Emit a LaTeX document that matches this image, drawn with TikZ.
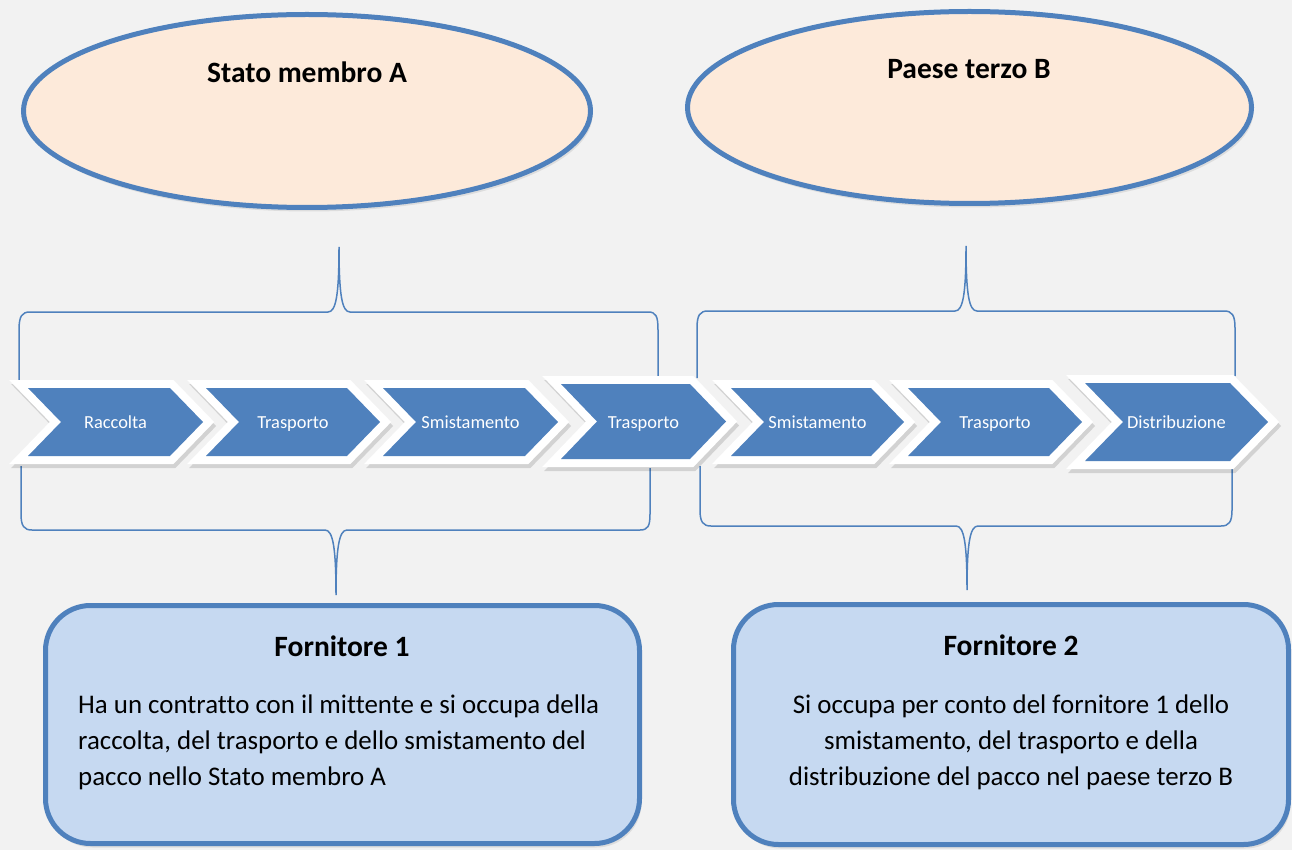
\documentclass[tikz,border=0pt]{standalone}
\usepackage{fontspec}
\setmainfont{Carlito}[Ligatures=NoCommon]
\usetikzlibrary{shapes.geometric,shadows}
\definecolor{bgcol}{HTML}{F2F2F2}
\definecolor{acc}{HTML}{4F81BD}
\definecolor{peach}{HTML}{FDEADA}
\definecolor{lblue}{HTML}{C6D9F1}
\newcommand\mychev[5]{%
  \draw[black, opacity=0.13, line width=16pt, line join=miter, shift={(2,4)}]
    (#1,#3) -- (#2-#5,#3) -- (#2,{(#3+#4)/2}) -- (#2-#5,#4) -- (#1,#4) -- (#1+#5,{(#3+#4)/2}) -- cycle;
  \draw[white, fill=white, line width=16pt, line join=miter]
    (#1,#3) -- (#2-#5,#3) -- (#2,{(#3+#4)/2}) -- (#2-#5,#4) -- (#1,#4) -- (#1+#5,{(#3+#4)/2}) -- cycle;
  \fill[acc]
    (#1,#3) -- (#2-#5,#3) -- (#2,{(#3+#4)/2}) -- (#2-#5,#4) -- (#1,#4) -- (#1+#5,{(#3+#4)/2}) -- cycle;
}
\begin{document}
\begin{tikzpicture}[x=1pt,y=-1pt,
  region/.style={ellipse, draw=acc, line width=5pt, fill=peach, inner sep=0pt,
    drop shadow={shadow xshift=2pt, shadow yshift=-4pt, opacity=0.18}},
  provbox/.style={rectangle, rounded corners=45pt, draw=acc, line width=5pt, fill=lblue, inner sep=0pt,
    drop shadow={shadow xshift=2pt, shadow yshift=-4pt, opacity=0.18}},
  title/.style={font=\fontsize{29.5}{34}\selectfont\bfseries, text=black, inner sep=0pt, anchor=base},
  body/.style={font=\fontsize{26.9}{36}\selectfont, text=black, inner sep=0pt},
  steptext/.style={font=\fontsize{18.4}{20}\selectfont, text=white, inner sep=0pt, anchor=base},
  brace/.style={draw=acc, line width=1.5pt}
]
\fill[bgcol] (0,0) rectangle (1292,850);

% ellipses
\node[region, minimum width=567pt, minimum height=193pt] (ellA) at (307,111) {};
\node[title] (tA) at (307,83) {Stato membro A};
\node[region, minimum width=564pt, minimum height=192pt] (ellB) at (969.5,107.5) {};
\node[title] (tB) at (969,79) {Paese terzo B};

% braces
\draw[brace] (19,380) -- (19,330) .. controls (19,316) and (22,312) .. (30,312) -- (328,312)
  .. controls (336,312) and (339,295) .. (339,247) .. controls (339,295) and (342,312) .. (350,312)
  -- (648,312) .. controls (656,312) and (658,316) .. (658,330) -- (658,378);
\draw[brace] (21,466) -- (21,514) .. controls (21,526) and (24,530) .. (32,530) -- (325,530)
  .. controls (333,530) and (336,548) .. (336,595) .. controls (336,548) and (339,530) .. (347,530)
  -- (640,530) .. controls (648,530) and (650,526) .. (650,514) -- (650,468);
\draw[brace] (697,378) -- (697,328) .. controls (697,315) and (700,311) .. (708,311) -- (955,311)
  .. controls (963,311) and (966,294) .. (966,246) .. controls (966,294) and (969,311) .. (977,311)
  -- (1224,311) .. controls (1232,311) and (1235,315) .. (1235,328) -- (1235,376);
\draw[brace] (700,466) -- (700,510) .. controls (700,522) and (703,526) .. (711,526) -- (956,526)
  .. controls (964,526) and (967,543) .. (967,590) .. controls (967,543) and (970,526) .. (978,526)
  -- (1221,526) .. controls (1229,526) and (1232,522) .. (1232,510) -- (1232,468);

% chevrons
\mychev{28}{203}{388}{456}{33}
\node[steptext] (c1) at (115.5,428) {Raccolta};
\mychev{206}{380}{388}{456}{33}
\node[steptext] (c2) at (293,428) {Trasporto};
\mychev{383}{558}{388}{456}{33}
\node[steptext] (c3) at (470.5,428) {Smistamento};
\mychev{561}{726}{384}{459}{36}
\node[steptext] (c4) at (643.5,428) {Trasporto};
\mychev{731}{904}{388}{456}{33}
\node[steptext] (c5) at (817.5,428) {Smistamento};
\mychev{908}{1082}{388}{456}{33}
\node[steptext] (c6) at (995,428) {Trasporto};
\mychev{1085}{1268}{383}{461}{38}
\node[steptext] (c7) at (1176.5,428) {Distribuzione};

% provider boxes
\node[provbox, minimum width=594pt, minimum height=238pt] (boxA) at (342.5,724.5) {};
\node[title] (fA) at (342,656) {Fornitore 1};
\node[body, align=left, anchor=north west] (dA) at (78,695)
  {Ha un contratto con il mittente e si occupa della\\raccolta, del trasporto e dello smistamento del\\pacco nello Stato membro A};
\node[provbox, minimum width=555pt, minimum height=240pt] (boxB) at (1011,724.5) {};
\node[title] (fB) at (1011,655) {Fornitore 2};
\node[body, align=center, anchor=north] (dB) at (1011,695)
  {Si occupa per conto del fornitore 1 dello\\smistamento, del trasporto e della\\distribuzione del pacco nel paese terzo B};
\end{tikzpicture}
\end{document}
